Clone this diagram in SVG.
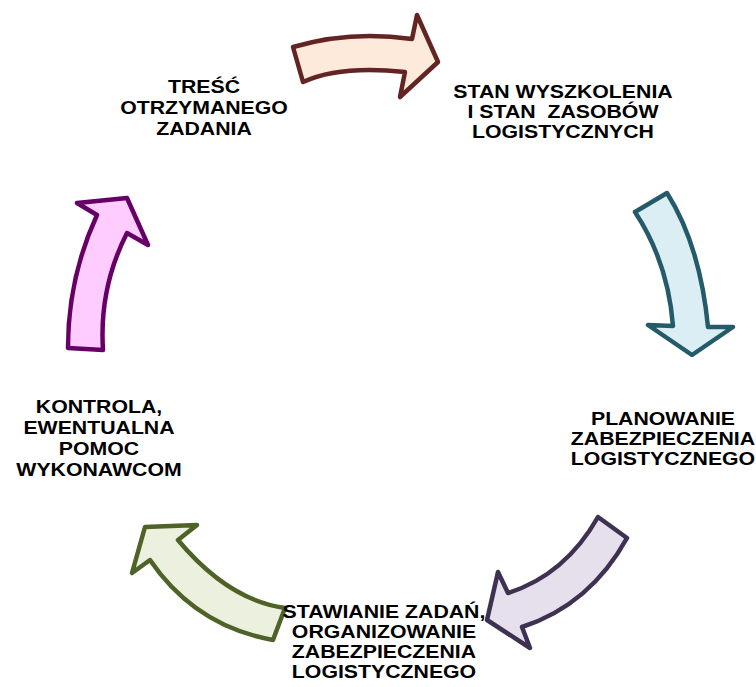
<svg xmlns="http://www.w3.org/2000/svg" width="756" height="687" viewBox="0 0 756 687">
<style>
.arr{stroke-width:4.5;stroke-linejoin:round}
.lbl{font-family:"Liberation Sans",Arial,sans-serif;font-weight:bold;font-size:18.5px;fill:#000;text-anchor:middle}
</style>
<rect width="756" height="687" fill="#fff"/>
<g id="connectors">
<path id="a1" class="arr" fill="#FDEADA" stroke="#632523" d="M293,47 Q350,30 412,39 L417,15 L438,62 L400,97 L405,72 Q340,65 303,82 Z"/>
<path id="a2" class="arr" fill="#DBEEF4" stroke="#245A6A" d="M635,212 L667,193 Q700,245 708,327 L733,327 L692,355 L648,325 L673,326 Q668,262 635,212 Z"/>
<path id="a3" class="arr" fill="#E6E0EC" stroke="#3F3151" d="M598,517 L627,538 Q590,605 522,627 L530,648 L487,620 L498,572 L508,593 Q565,575 598,517 Z"/>
<path id="a4" class="arr" fill="#EBF1DE" stroke="#4F6228" d="M285,608 L273,640 Q195,626 150,560 L132,573 L145,527 L197,525 L178,540 Q228,600 285,608 Z"/>
<path id="a5" class="arr" fill="#FFCCFF" stroke="#660066" d="M68,348 L103,350 Q99,288 127,233 L148,245 L127,198 L77,203 L97,215 Q68,278 68,348 Z"/>
</g>
<g id="n1" class="lbl" transform="translate(204,0) scale(1.15,1)">
<text x="0" y="93">TREŚĆ</text>
<text x="0" y="114">OTRZYMANEGO</text>
<text x="0" y="135">ZADANIA</text>
</g>
<g id="n2" class="lbl" transform="translate(563,0) scale(1.15,1)">
<text x="0" y="98">STAN WYSZKOLENIA</text>
<text x="0" y="118" xml:space="preserve">I STAN  ZASOBÓW</text>
<text x="0" y="138">LOGISTYCZNYCH</text>
</g>
<g id="n3" class="lbl" transform="translate(663,0) scale(1.15,1)">
<text x="0" y="425">PLANOWANIE</text>
<text x="0" y="445">ZABEZPIECZENIA</text>
<text x="0" y="465">LOGISTYCZNEGO</text>
</g>
<g id="n4" class="lbl" transform="translate(384,0) scale(1.15,1)">
<text x="0" y="618">STAWIANIE ZADAŃ,</text>
<text x="0" y="638">ORGANIZOWANIE</text>
<text x="0" y="658">ZABEZPIECZENIA</text>
<text x="0" y="678">LOGISTYCZNEGO</text>
</g>
<g id="n5" class="lbl" transform="translate(99,0) scale(1.15,1)">
<text x="0" y="413">KONTROLA,</text>
<text x="0" y="434">EWENTUALNA</text>
<text x="0" y="455">POMOC</text>
<text x="0" y="476">WYKONAWCOM</text>
</g>
</svg>
